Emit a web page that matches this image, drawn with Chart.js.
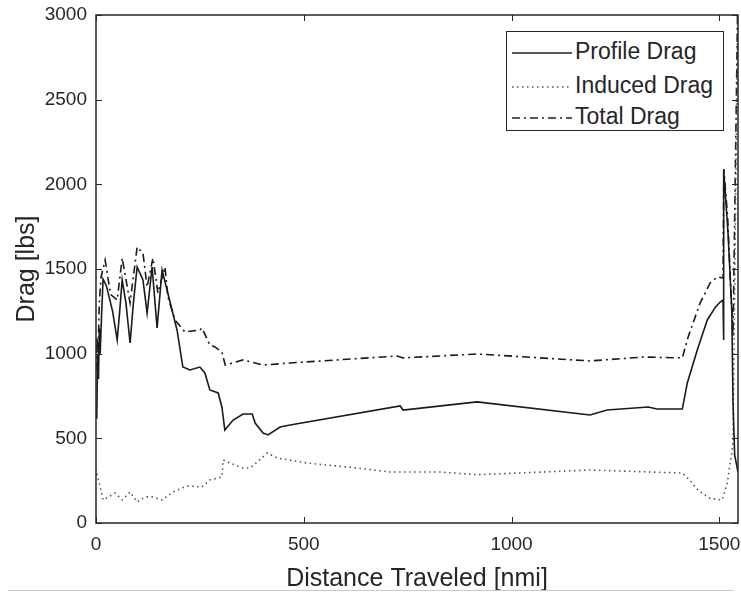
<html>
<head>
<meta charset="utf-8">
<script src="https://cdn.jsdelivr.net/npm/chart.js@4.4.0/dist/chart.umd.min.js"></script>
<style>
  body { margin: 0; background: #fff; }
  .wrap { position: relative; width: 741px; height: 594px; }
  .legend {
    position: absolute; left: 506px; top: 31px; width: 216px; height: 98px;
    border: 1px solid #262626; background: #fff;
    font-family: "Liberation Sans", Arial, sans-serif; font-size: 23px; color: #262626;
  }
  .legend div { position: absolute; left: 5px; height: 30px; line-height: 30px; white-space: nowrap; }
  .legend svg { vertical-align: middle; margin-right: 3px; }
  .bottom-line { position: absolute; left: 8px; top: 590px; width: 726px; height: 1px; background: #c8c8c8; }
</style>
</head>
<body>
<div class="wrap">
  <canvas id="drag" width="741" height="594"></canvas>
  <div class="legend">
    <div style="top:4px"><svg width="60" height="4"><line x1="0" y1="2" x2="60" y2="2" stroke="#222" stroke-width="1.5"/></svg>Profile Drag</div>
    <div style="top:38px"><svg width="60" height="4"><line x1="0" y1="2" x2="60" y2="2" stroke="#555" stroke-width="1.5" stroke-dasharray="1.5,3.5"/></svg>Induced Drag</div>
    <div style="top:69px"><svg width="60" height="4"><line x1="0" y1="2" x2="60" y2="2" stroke="#222" stroke-width="1.5" stroke-dasharray="8,4,2,4"/></svg>Total Drag</div>
  </div>
  <div class="bottom-line"></div>
</div>
<script>
// distances [nmi] and drag [lbs]
const profileX = [0, 2, 4, 6, 8, 10, 13, 17, 25, 40, 51, 57, 63, 72, 82, 90, 99, 113, 123, 135, 147, 159, 171, 195, 209, 226, 250, 262, 274, 294, 303, 310, 330, 354, 376, 383, 402, 414, 443, 467, 732, 739, 917, 1189, 1230, 1329, 1350, 1411, 1423, 1447, 1471, 1491, 1502, 1509, 1510, 1511, 1521, 1530, 1533, 1537, 1545];
const profileY = [620, 640, 1000, 850, 1150, 1000, 1200, 1440, 1400, 1250, 1081, 1250, 1435, 1300, 1063, 1300, 1512, 1435, 1240, 1512, 1152, 1494, 1376, 1140, 921, 904, 921, 886, 786, 768, 685, 549, 608, 644, 644, 590, 531, 520, 567, 579, 691, 667, 715, 638, 667, 685, 673, 673, 827, 1022, 1199, 1276, 1305, 1317, 1081, 2085, 1713, 1258, 709, 400, 300];

const inducedX = [0, 2, 10, 17, 46, 63, 82, 99, 118, 135, 159, 185, 219, 255, 274, 303, 306, 323, 354, 371, 388, 412, 436, 508, 628, 708, 828, 917, 1189, 1411, 1430, 1450, 1478, 1507, 1519, 1531, 1533, 1545];
const inducedY = [320, 295, 213, 136, 177, 136, 183, 124, 154, 154, 136, 183, 219, 213, 254, 272, 372, 354, 325, 325, 360, 413, 384, 354, 325, 301, 301, 285, 313, 295, 250, 190, 145, 136, 236, 431, 490, 3200];

const totalX = [0, 2, 5, 8, 12, 22, 35, 51, 63, 82, 99, 113, 123, 137, 149, 166, 173, 190, 214, 250, 255, 274, 286, 303, 311, 354, 402, 467, 725, 739, 917, 1189, 1317, 1411, 1425, 1454, 1478, 1495, 1509, 1511, 1520, 1527, 1533, 1545];
const totalY = [900, 1100, 1000, 1300, 1450, 1553, 1350, 1317, 1565, 1300, 1630, 1595, 1394, 1565, 1359, 1512, 1335, 1199, 1128, 1140, 1152, 1051, 1040, 1010, 933, 963, 933, 945, 986, 975, 998, 957, 980, 975, 1099, 1300, 1418, 1453, 1447, 2090, 1807, 1418, 1099, 3200];

const xTicks = [0, 500, 1000, 1500];
const xMax = 1545;
const yMax = 3000;

function pts(xs, ys) {
  return xs.map((x, i) => ({ x: x, y: ys[i] }));
}

// box round the plot, with MATLAB style inward ticks
const boxPlugin = {
  id: 'box',
  afterDraw(chart) {
    const ctx = chart.ctx, a = chart.chartArea;
    const sx = chart.scales.x, sy = chart.scales.y;
    ctx.save();
    ctx.strokeStyle = '#262626';
    ctx.lineWidth = 1.5;
    ctx.strokeRect(a.left, a.top, a.right - a.left, a.bottom - a.top);
    ctx.lineWidth = 1;
    ctx.beginPath();
    xTicks.forEach(v => {
      const p = Math.round(sx.getPixelForValue(v)) + 0.5;
      ctx.moveTo(p, a.bottom); ctx.lineTo(p, a.bottom - 6);
      ctx.moveTo(p, a.top); ctx.lineTo(p, a.top + 6);
    });
    for (let v = 0; v <= yMax; v += 500) {
      const p = Math.round(sy.getPixelForValue(v)) + 0.5;
      ctx.moveTo(a.left, p); ctx.lineTo(a.left + 6, p);
      ctx.moveTo(a.right, p); ctx.lineTo(a.right - 6, p);
    }
    ctx.stroke();
    ctx.restore();
  }
};

const tickFont = { family: '"Liberation Sans", Arial, sans-serif', size: 19 };
const titleFont = { family: '"Liberation Sans", Arial, sans-serif', size: 25 };

new Chart(document.getElementById('drag'), {
  type: 'line',
  data: {
    datasets: [
      {
        label: 'Profile Drag',
        data: pts(profileX, profileY),
        borderColor: '#1a1a1a',
        borderWidth: 1.6,
        pointRadius: 0
      },
      {
        label: 'Induced Drag',
        data: pts(inducedX, inducedY),
        borderColor: '#555',
        borderWidth: 1.6,
        borderDash: [1.5, 3.5],
        pointRadius: 0
      },
      {
        label: 'Total Drag',
        data: pts(totalX, totalY),
        borderColor: '#1a1a1a',
        borderWidth: 1.6,
        borderDash: [8, 4, 2, 4],
        pointRadius: 0
      }
    ]
  },
  options: {
    responsive: false,
    animation: false,
    layout: { padding: { left: 0, right: 3, top: 15, bottom: 0 } },
    plugins: { legend: { display: false }, tooltip: { enabled: false } },
    elements: { line: { tension: 0 } },
    scales: {
      x: {
        type: 'linear',
        min: 0,
        max: xMax,
        afterBuildTicks: s => { s.ticks = xTicks.map(v => ({ value: v })); },
        afterFit: s => { s.height = 71; s.paddingLeft = 0; s.paddingRight = 0; },
        grid: { display: false, drawTicks: false },
        border: { display: false },
        ticks: { font: tickFont, color: '#262626', padding: 10, maxRotation: 0, callback: v => String(v) },
        title: { display: true, text: 'Distance Traveled [nmi]', font: titleFont, color: '#262626', padding: { top: 0, bottom: 0 } }
      },
      y: {
        min: 0,
        max: yMax,
        afterFit: s => { s.width = 96; s.paddingTop = 0; s.paddingBottom = 0; },
        grid: { display: false, drawTicks: false },
        border: { display: false },
        ticks: { stepSize: 500, font: tickFont, color: '#262626', padding: 9, callback: v => String(v) },
        title: { display: true, text: 'Drag [lbs]', font: titleFont, color: '#262626', padding: { top: 12, bottom: 0 } }
      }
    }
  },
  plugins: [boxPlugin]
});
</script>
</body>
</html>
